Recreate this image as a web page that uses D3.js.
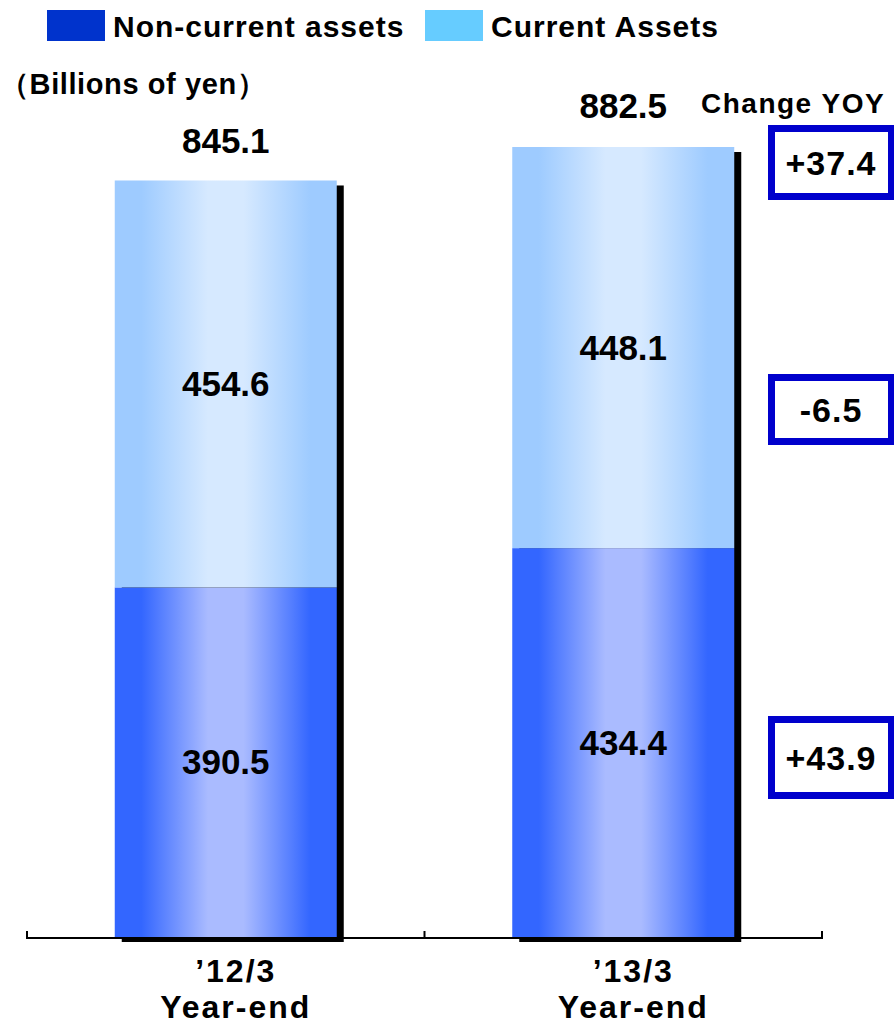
<!DOCTYPE html>
<html>
<head>
<meta charset="utf-8">
<script src="https://cdn.jsdelivr.net/npm/d3@7"></script>
<style>
  html, body { margin: 0; padding: 0; background: #fff; }
  svg { display: block; }
  text { font-family: "Liberation Sans", Arial, sans-serif; font-weight: bold; fill: #000; }
</style>
</head>
<body>
<svg id="chart" width="894" height="1024"></svg>
<script>
// Balance sheet assets, billions of yen
const periods = ["\u201912/3", "\u201913/3"];
const periodSub = ["Year-end", "Year-end"];
const nonCurrent = [390.5, 434.4];
const current = [454.6, 448.1];
const totals = [845.1, 882.5];
const changeLabels = ["+37.4", "-6.5", "+43.9"];
const seriesNames = ["Non-current assets", "Current Assets"];

const svg = d3.select("#chart");
const defs = svg.append("defs");

function hGradient(id, edge, mid) {
  const g = defs.append("linearGradient").attr("id", id)
    .attr("x1", "0%").attr("x2", "100%").attr("y1", "0%").attr("y2", "0%");
  [[0, edge], [0.12, edge], [0.42, mid], [0.58, mid], [0.88, edge], [1, edge]]
    .forEach(([o, c]) => g.append("stop").attr("offset", o).attr("stop-color", c));
}
hGradient("gNon", "#3366ff", "#aabbff");
hGradient("gCur", "#9ecbff", "#d6e9ff");

const axisLeft = 27, axisRight = 822, baseY = 937;
const x = d3.scalePoint().domain(periods).range([axisLeft, axisRight]).padding(0.5);
const y = d3.scaleLinear().domain([0, 882.5]).range([baseY, 147]);
const barW = 222;

const data = periods.map((p, i) => ({ p, non: nonCurrent[i], cur: current[i], total: totals[i] }));

// drop shadows
svg.append("g").selectAll("rect").data(data).join("rect")
  .attr("x", d => x(d.p) - barW / 2 + 7)
  .attr("y", d => y(d.total) + 5)
  .attr("width", barW)
  .attr("height", d => baseY - y(d.total))
  .attr("fill", "#000");

// axis line and ticks
const ax = svg.append("g");
ax.append("line").attr("x1", axisLeft).attr("x2", axisRight)
  .attr("y1", baseY + 1).attr("y2", baseY + 1).attr("stroke", "#000").attr("stroke-width", 2);
const tickXs = [axisLeft, (x(periods[0]) + x(periods[1])) / 2, axisRight];
ax.selectAll("line.tick").data(tickXs).join("line").attr("class", "tick")
  .attr("x1", d => d).attr("x2", d => d).attr("y1", baseY - 6).attr("y2", baseY + 2)
  .attr("stroke", "#000").attr("stroke-width", 2);

// stacked segments
const bars = svg.append("g");
bars.selectAll("rect.non").data(data).join("rect").attr("class", "non")
  .attr("x", d => x(d.p) - barW / 2).attr("width", barW)
  .attr("y", d => y(d.non)).attr("height", d => baseY - y(d.non))
  .attr("fill", "url(#gNon)");
bars.selectAll("rect.cur").data(data).join("rect").attr("class", "cur")
  .attr("x", d => x(d.p) - barW / 2).attr("width", barW)
  .attr("y", d => y(d.non + d.cur)).attr("height", d => y(d.non) - y(d.non + d.cur))
  .attr("fill", "url(#gCur)");

// segment value labels
const labels = svg.append("g").attr("font-size", 35).attr("text-anchor", "middle");
data.forEach(d => {
  labels.append("text").attr("x", x(d.p)).attr("y", (y(d.non) + baseY) / 2 + 12).text(d.non.toFixed(1));
  labels.append("text").attr("x", x(d.p)).attr("y", (y(d.non + d.cur) + y(d.non)) / 2 + 12).text(d.cur.toFixed(1));
});
// totals
labels.append("text").attr("x", x(periods[0])).attr("y", y(totals[0]) - 27).text(totals[0].toFixed(1));
labels.append("text").attr("x", x(periods[1])).attr("y", y(totals[1]) - 29).text(totals[1].toFixed(1));

// category labels
const cat = svg.append("g").attr("font-size", 32).attr("letter-spacing", 2).attr("text-anchor", "middle");
periods.forEach((p, i) => {
  cat.append("text").attr("x", x(p) + 10).attr("y", 982).text(p);
  cat.append("text").attr("x", x(p) + 10).attr("y", 1018).text(periodSub[i]);
});

// legend
const legend = svg.append("g");
const legendItems = [
  { name: seriesNames[0], color: "#0033cc", sx: 47, tx: 113 },
  { name: seriesNames[1], color: "#66ccff", sx: 425, tx: 491 }
];
legendItems.forEach(it => {
  legend.append("rect").attr("x", it.sx).attr("y", 10).attr("width", 58).attr("height", 31).attr("fill", it.color);
  legend.append("text").attr("x", it.tx).attr("y", 37).attr("font-size", 30).attr("letter-spacing", 1).text(it.name);
});

// unit and change header
svg.append("text").attr("x", 0).attr("y", 94).attr("font-size", 29).attr("letter-spacing", 0.6)
  .text("\uFF08Billions of yen\uFF09");
svg.append("text").attr("x", 701).attr("y", 113).attr("font-size", 28).attr("letter-spacing", 1.5).text("Change YOY");

// year-over-year change boxes
const boxes = [
  { label: changeLabels[0], y0: 125, y1: 200 },
  { label: changeLabels[1], y0: 374, y1: 445 },
  { label: changeLabels[2], y0: 716, y1: 799 }
];
const bx = svg.append("g");
boxes.forEach(b => {
  bx.append("rect").attr("x", 771.5).attr("y", b.y0 + 3.5).attr("width", 120).attr("height", b.y1 - b.y0 - 7)
    .attr("fill", "#fff").attr("stroke", "#0000cc").attr("stroke-width", 7);
  bx.append("text").attr("x", 831).attr("y", (b.y0 + b.y1) / 2 + 12).attr("text-anchor", "middle")
    .attr("font-size", 34).attr("letter-spacing", 1).text(b.label);
});
</script>
</body>
</html>
